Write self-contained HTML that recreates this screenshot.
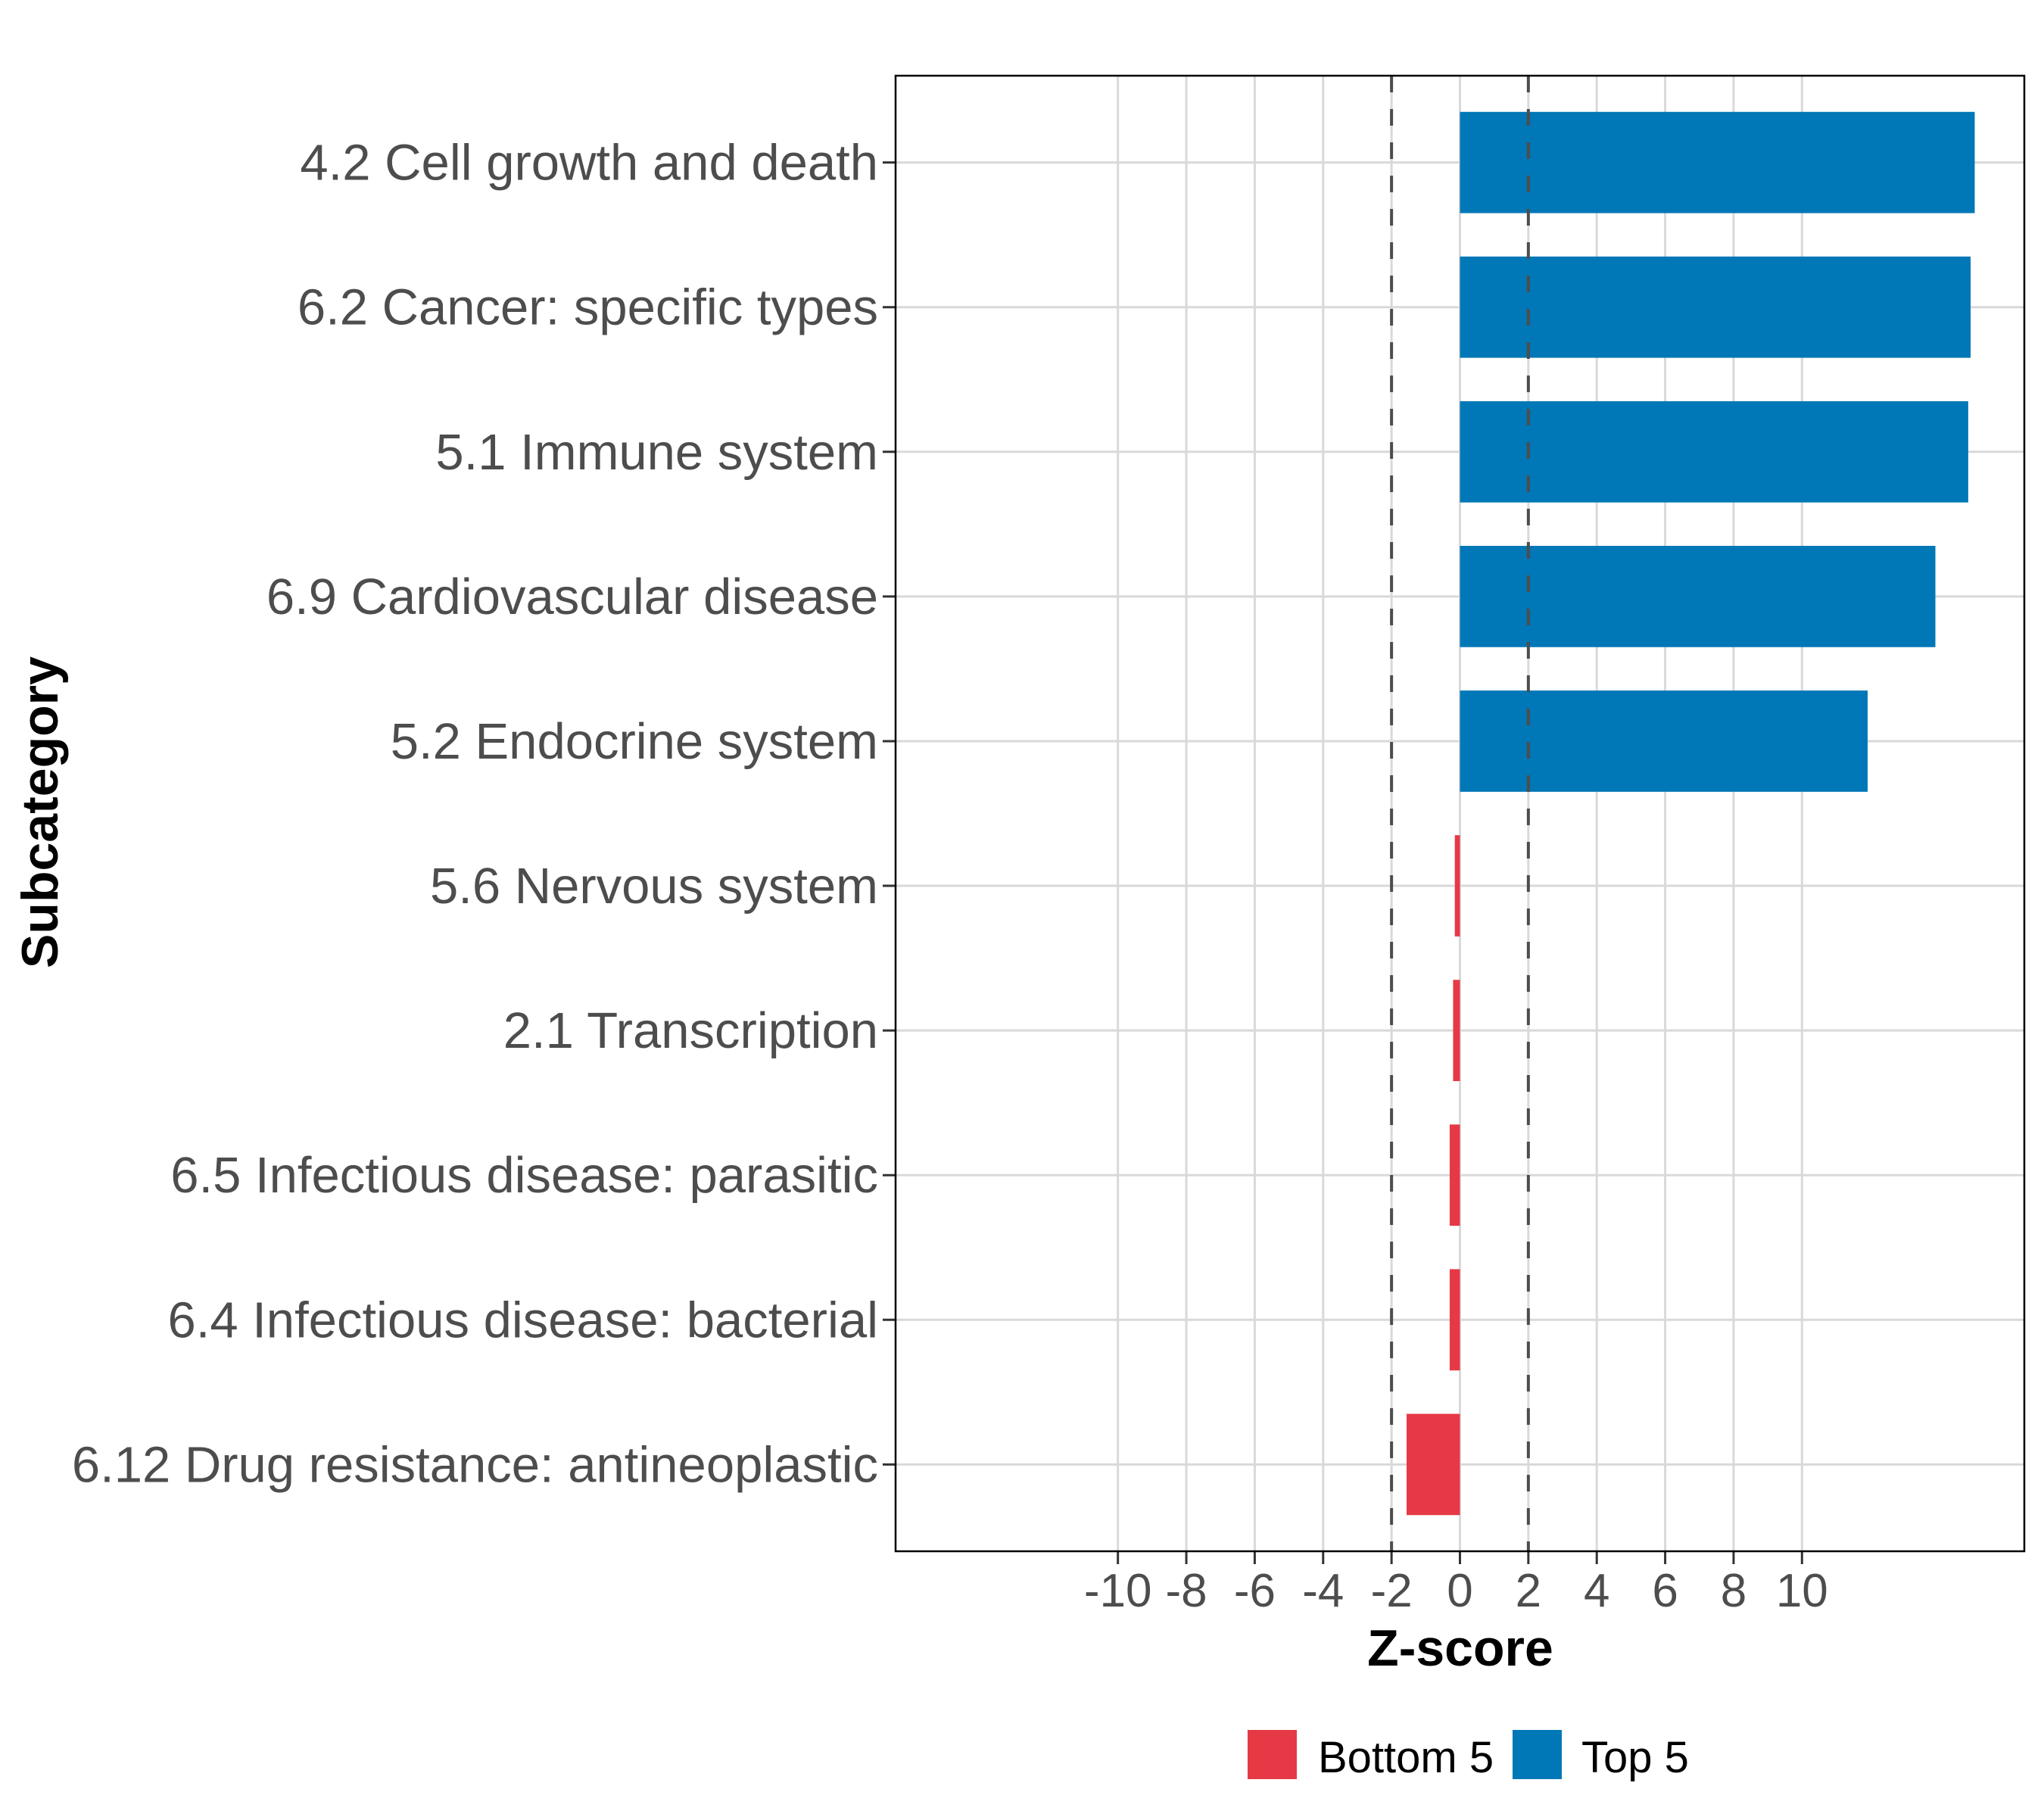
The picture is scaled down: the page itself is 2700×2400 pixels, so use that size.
<!DOCTYPE html>
<html><head><meta charset="utf-8"><style>html,body{margin:0;padding:0;background:#fff}svg{display:block}</style></head>
<body>
<svg id="chart" width="2700" height="2400" viewBox="0 0 2700 2400" xmlns="http://www.w3.org/2000/svg" font-family="Liberation Sans, sans-serif">
<rect width="2700" height="2400" fill="#fff"/>
<g id="grid"></g><g id="bars"></g><g id="refs"></g><g id="axes"></g>
<rect x="1183" y="100" width="1491" height="1949" fill="none" stroke="#000" stroke-width="2.5"/>
<text x="1929" y="2200" text-anchor="middle" font-size="68" font-weight="bold" fill="#000">Z-score</text>
<text transform="translate(76,1073) rotate(-90)" text-anchor="middle" font-size="68" font-weight="bold" fill="#000">Subcategory</text>
<g>
<rect x="1648" y="2285" width="65" height="65" fill="#e63946"/>
<text x="1741" y="2341" font-size="58" fill="#000">Bottom 5</text>
<rect x="1998" y="2285" width="65" height="65" fill="#0077b6"/>
<text x="2089" y="2341" font-size="58" fill="#000">Top 5</text>
</g>
</svg>
<script>
const categories = ["4.2 Cell growth and death","6.2 Cancer: specific types","5.1 Immune system","6.9 Cardiovascular disease","5.2 Endocrine system","5.6 Nervous system","2.1 Transcription","6.5 Infectious disease: parasitic","6.4 Infectious disease: bacterial","6.12 Drug resistance: antineoplastic"];
const values = [15.05, 14.93, 14.86, 13.9, 11.92, -0.15, -0.2, -0.3, -0.3, -1.56];
const groups = ["Top 5","Top 5","Top 5","Top 5","Top 5","Bottom 5","Bottom 5","Bottom 5","Bottom 5","Bottom 5"];
const xTicks = [-10,-8,-6,-4,-2,0,2,4,6,8,10];
const refLines = [-2, 2];

const NS = "http://www.w3.org/2000/svg";
const X0 = 1183, X1 = 2674, Y0 = 100, Y1 = 2049, XMIN = -16.5, XMAX = 16.5;
const x = v => X0 + (v - XMIN) / (XMAX - XMIN) * (X1 - X0);
const step = (Y1 - Y0) / (categories.length - 1 + 1.2);
const y = i => Y0 + step * (i + 0.6);
const barH = step * 0.7;
function mk(tag, attrs, parent) { const e = document.createElementNS(NS, tag); for (const k in attrs) e.setAttribute(k, attrs[k]); parent.appendChild(e); return e; }
const grid = document.getElementById('grid'), bars = document.getElementById('bars'), refs = document.getElementById('refs'), axes = document.getElementById('axes');

xTicks.forEach(t => {
  const g = mk('line', {x1: x(t), x2: x(t), y1: Y0, y2: Y1, stroke: '#d9d9d9', 'stroke-width': 3}, grid);
  
  
  const tk = mk('line', {x1: x(t), x2: x(t), y1: Y1, y2: Y1 + 17, stroke: '#333', 'stroke-width': 3}, axes);
  
  
  const lb = mk('text', {x: x(t), y: 2122, 'text-anchor': 'middle', 'font-size': 62, fill: '#4d4d4d'}, axes);
  lb.textContent = String(t);
  
  
});
categories.forEach((c, i) => {
  const g = mk('line', {x1: X0, x2: X1, y1: y(i), y2: y(i), stroke: '#d9d9d9', 'stroke-width': 3}, grid);
  
  
  const v = values[i];
  const b = mk('rect', {x: Math.min(x(0), x(v)), y: y(i) - barH / 2, width: Math.abs(x(v) - x(0)), height: barH, fill: groups[i] === 'Top 5' ? '#0077b6' : '#e63946'}, bars);
  
  
  const tk = mk('line', {x1: X0 - 17, x2: X0, y1: y(i), y2: y(i), stroke: '#333', 'stroke-width': 3}, axes);
  
  
  const lb = mk('text', {x: 1160, y: y(i) + 23, 'text-anchor': 'end', 'font-size': 67, fill: '#4d4d4d'}, axes);
  lb.textContent = c;
  
  
});
refLines.forEach(r => {
  const l = mk('line', {x1: x(r), x2: x(r), y1: Y0, y2: Y1, stroke: '#4d4d4d', 'stroke-width': 4, 'stroke-dasharray': '22 22'}, refs);
  
  
});
</script>
</body></html>
